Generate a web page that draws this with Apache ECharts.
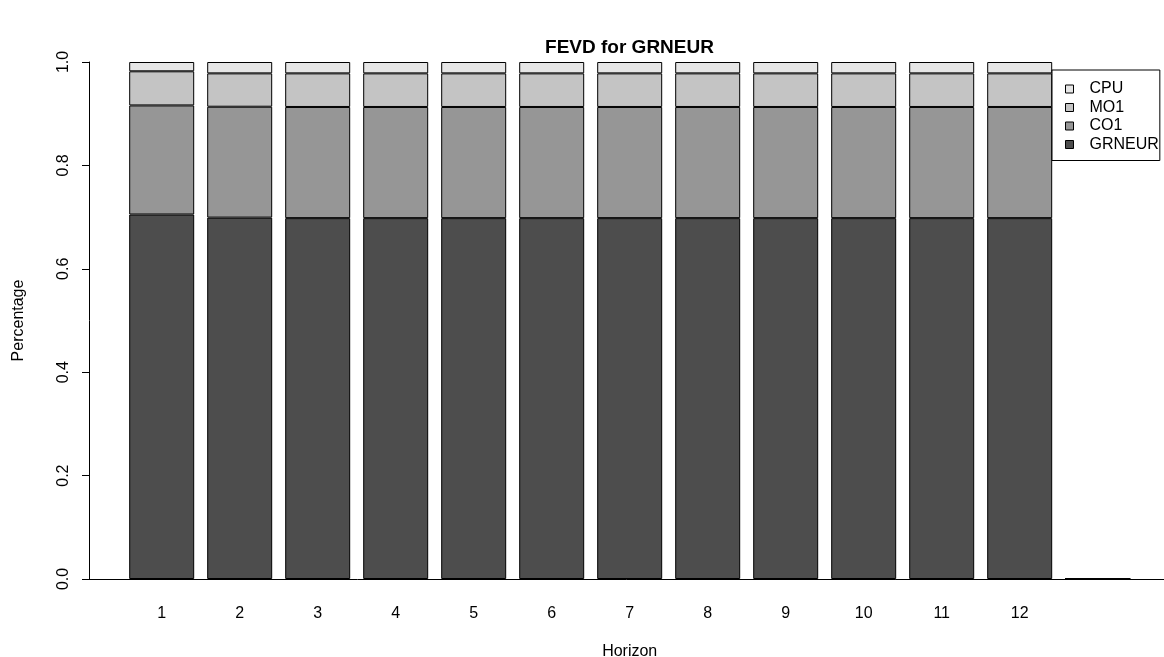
<!DOCTYPE html>
<html>
<head>
<meta charset="utf-8">
<script src="https://cdn.jsdelivr.net/npm/echarts@6/dist/echarts.min.js"></script>
<style>
html,body{margin:0;padding:0;background:#fff;overflow:hidden;}
#chart{width:1164px;height:657px;}
</style>
</head>
<body>
<div id="chart"></div>
<script>
// Data (FEVD for GRNEUR)
const horizons = ['1', '2', '3', '4', '5', '6', '7', '8', '9', '10', '11', '12'];
const GRNEUR = [0.705, 0.699, 0.698, 0.698, 0.698, 0.698, 0.698, 0.698, 0.698, 0.698, 0.698, 0.698];
const CO1    = [0.211, 0.2145, 0.215, 0.215, 0.215, 0.215, 0.215, 0.215, 0.215, 0.215, 0.215, 0.215];
const MO1    = [0.066, 0.0645, 0.065, 0.065, 0.065, 0.065, 0.065, 0.065, 0.065, 0.065, 0.065, 0.065];
const CPU    = [0.018, 0.022, 0.022, 0.022, 0.022, 0.022, 0.022, 0.022, 0.022, 0.022, 0.022, 0.022];
const spacerLabel = '';   // empty legend-space column in the R plot
const spacerValue = 0;

const FONT = 'Liberation Sans, Arial, Helvetica, sans-serif';
const colors = {GRNEUR: '#4D4D4D', CO1: '#969696', MO1: '#C4C4C4', CPU: '#E6E6E6'};
const categories = horizons.concat([spacerLabel]);

function mk(name, vals) {
  return {
    name: name,
    type: 'bar',
    stack: 'fevd',
    xAxisIndex: 0,
    yAxisIndex: 0,
    barWidth: 65,
    itemStyle: {color: colors[name], borderColor: '#000', borderWidth: 1},
    emphasis: {disabled: true},
    data: vals.concat([spacerValue])
  };
}

const chart = echarts.init(document.getElementById('chart'), null, {renderer: 'canvas'});
chart.setOption({
  animation: false,
  backgroundColor: '#fff',
  textStyle: {fontFamily: FONT},
  title: {
    text: 'FEVD for GRNEUR',
    left: 629.5,
    textAlign: 'center',
    top: 38,
    padding: 0,
    textStyle: {fontFamily: FONT, fontSize: 19, fontWeight: 'bold', color: '#000'}
  },
  legend: {
    data: ['CPU', 'MO1', 'CO1', 'GRNEUR'],
    orient: 'vertical',
    left: 1052,
    top: 70,
    padding: [11, 1, 8, 13],
    itemGap: 2.5,
    itemWidth: 8,
    itemHeight: 8,
    icon: 'rect',
    borderColor: '#000',
    borderWidth: 1,
    borderRadius: 0,
    backgroundColor: '#fff',
    selectedMode: false,
    itemStyle: {borderColor: '#000', borderWidth: 1},
    textStyle: {fontFamily: FONT, fontSize: 16, color: '#000', padding: [0, 0, 0, 11]}
  },
  grid: [
    {left: 122.7, width: 1014, top: 62, height: 517, containLabel: false, outerBoundsMode: 'none'},
    {left: 89, width: 1081, top: 62, height: 517, containLabel: false, outerBoundsMode: 'none'}
  ],
  xAxis: [
    {
      type: 'category',
      gridIndex: 0,
      data: categories,
      name: 'Horizon',
      nameLocation: 'middle',
      nameGap: 65,
      nameTextStyle: {fontFamily: FONT, fontSize: 16, color: '#000'},
      axisLine: {show: false},
      axisTick: {show: false},
      splitLine: {show: false},
      axisLabel: {interval: 0, margin: 27, fontFamily: FONT, fontSize: 16, color: '#000'}
    },
    {
      type: 'value',
      gridIndex: 1,
      min: 0,
      max: 1,
      axisLine: {show: true, onZero: false, lineStyle: {color: '#000', width: 1}},
      axisTick: {show: false},
      axisLabel: {show: false},
      splitLine: {show: false}
    }
  ],
  yAxis: [
    {
      type: 'value',
      gridIndex: 0,
      min: 0,
      max: 1,
      interval: 0.2,
      offset: 33.7,
      name: 'Percentage',
      nameLocation: 'middle',
      nameGap: 62,
      nameRotate: 90,
      nameTextStyle: {fontFamily: FONT, fontSize: 16, color: '#000'},
      axisLine: {show: true, lineStyle: {color: '#000', width: 1}},
      axisTick: {show: true, length: 7, lineStyle: {color: '#000'}},
      splitLine: {show: false},
      axisLabel: {
        rotate: 90,
        margin: 17,
        fontFamily: FONT,
        fontSize: 16,
        color: '#000',
        formatter: v => Number(v).toFixed(1)
      }
    },
    {
      type: 'value',
      gridIndex: 1,
      min: 0,
      max: 1,
      show: false
    }
  ],
  series: [
    mk('GRNEUR', GRNEUR),
    mk('CO1', CO1),
    mk('MO1', MO1),
    mk('CPU', CPU)
  ]
});
</script>
</body>
</html>
